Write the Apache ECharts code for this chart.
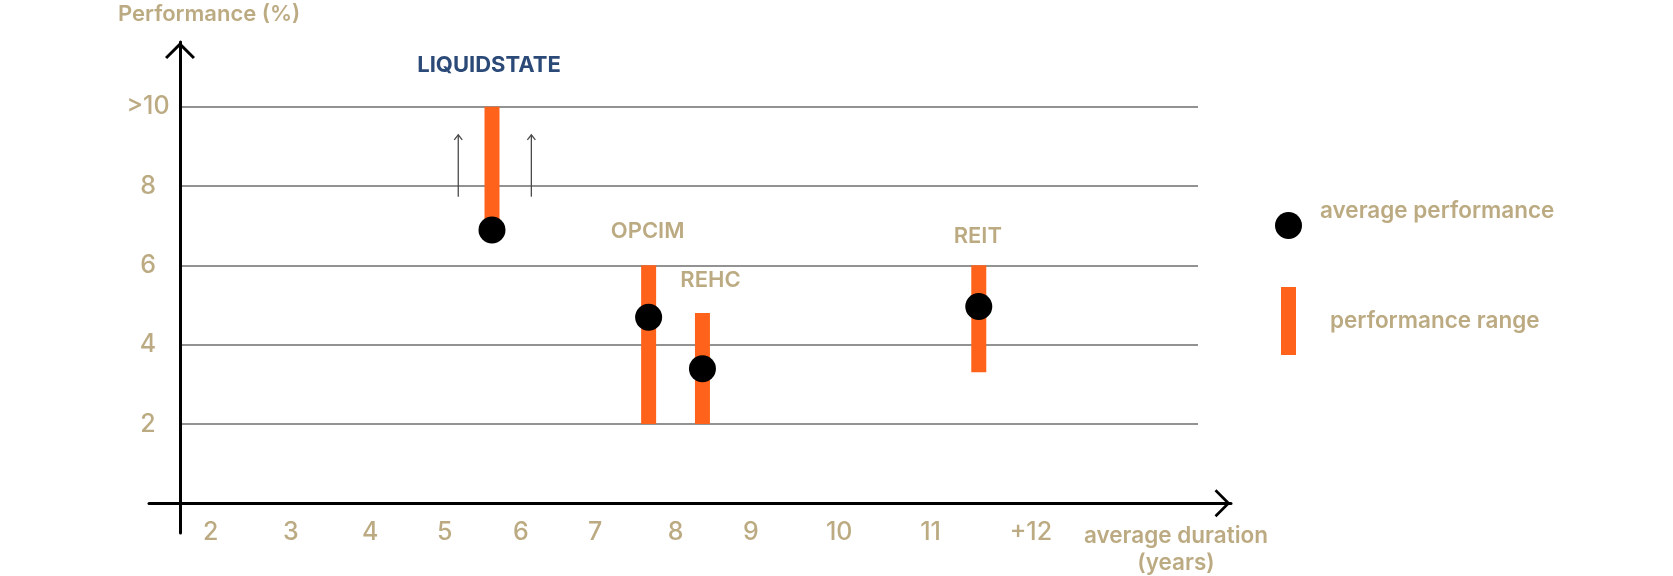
<!DOCTYPE html>
<html><head><meta charset="utf-8">
<script src="https://cdn.jsdelivr.net/npm/echarts@6/dist/echarts.min.js"></script>
<style>html,body{margin:0;padding:0;background:#fff}#c{width:1673px;height:576px}</style>
</head><body><div id="c"></div>
<script>
// ---- data ----
const names = ['LIQUIDSTATE', 'OPCIM', 'REHC', 'REIT'];
const durations = [5.59, 7.54, 8.21, 11.65];
const avgPerf = [6.89, 4.69, 3.39, 4.96];
const rangeLow = [6.89, 2, 2, 3.3];
const rangeHigh = [10, 6, 4.8, 6];
const yTicks = [2, 4, 6, 8, 10];
const yTickLabels = ['2', '4', '6', '8', '>10'];
const xTicks = [2, 3, 4, 5, 6, 7, 8, 9, 10, 11, 12];
const xTickLabels = ['2', '3', '4', '5', '6', '7', '8', '9', '10', '11', '+12'];
const arrowX = [5.17, 6.08];
const arrowFrom = [7.73, 7.73];
const arrowTo = [9.29, 9.29];

// ---- styles ----
const TAN = '#BCAB82', ORANGE = '#FF621A', NAVY = '#2C4A78';
const FONT = 'Inter, "Noto Sans", sans-serif';
const labelStyles = [
  {color: NAVY, dx: -3, dy: -41, weight: 700, size: 22},
  {color: TAN, dx: -1, dy: -34, weight: 600, size: 22},
  {color: TAN, dx: 8, dy: -32, weight: 600, size: 22},
  {color: TAN, dx: -1, dy: -29, weight: 600, size: 22}
];
// horizontal nudge (px) of each x tick label, the reference labels are hand placed
const xLabelNudge = [7, 7, 6, 0, -4, -10, -10, -15, -7, 4, 24];
const xLabelFont = {color: TAN, fontSize: 25, fontFamily: FONT, fontWeight: 500};
const xRich = {};
xTicks.forEach((t, i) => {
  const n = xLabelNudge[i];
  xRich['t' + i] = Object.assign({padding: n >= 0 ? [0, 0, 0, 2 * n] : [0, -2 * n, 0, 0]}, xLabelFont);
});
const legendFont = {color: TAN, fontSize: 22.5, fontWeight: 600, fontFamily: FONT};
const chevron = 'path://M15,0 L30,15 L27.9,17 L15,4.2 L2.1,17 L0,15 Z';

const chart = echarts.init(document.getElementById('c'), null, {renderer: 'canvas'});
const option = {
  animation: false,
  backgroundColor: '#fff',
  grid: [
    {left: 149, right: 442, top: 42, bottom: 43},
    {left: 180, right: 475, top: 106.7, bottom: 152}
  ],
  xAxis: [
    {
      gridIndex: 0, type: 'value', min: 1.32, max: 14.79,
      axisLine: {onZero: true, symbol: ['none', chevron], symbolSize: [28, 17], symbolOffset: [0, -8.5],
        lineStyle: {color: '#000', width: 3}},
      axisTick: {show: false, customValues: xTicks},
      splitLine: {show: false},
      axisLabel: Object.assign({customValues: xTicks, margin: -13,
        formatter: v => { const i = xTicks.indexOf(v); return '{t' + i + '|' + xTickLabels[i] + '}'; },
        rich: xRich}, xLabelFont)
    },
    {gridIndex: 1, type: 'value', min: 0, max: 1, show: false}
  ],
  yAxis: [
    {
      gridIndex: 0, type: 'value', min: -0.75, max: 11.63, offset: -31,
      axisLine: {show: true, onZero: false, symbol: ['none', chevron], symbolSize: [30, 17], symbolOffset: [0, -8.5],
        lineStyle: {color: '#000', width: 3}},
      axisTick: {show: false}, axisLabel: {show: false}, splitLine: {show: false}
    },
    {
      gridIndex: 1, type: 'value', min: 2, max: 10, interval: 2,
      axisLine: {show: false}, axisTick: {show: false},
      splitLine: {show: true, lineStyle: {color: '#6e6e6e', width: 1.5}},
      axisLabel: {formatter: v => yTickLabels[yTicks.indexOf(v)], color: TAN, fontSize: 25,
        fontFamily: FONT, fontWeight: 500, align: 'center', margin: 32}
    }
  ],
  legend: [
    {data: [{name: 'average performance', icon: 'circle'}], left: 1275, top: 200, padding: 0,
      itemWidth: 27, itemHeight: 27,
      formatter: '{a|{name}}',
      textStyle: Object.assign({rich: {a: Object.assign({padding: [0, 0, 28, 13]}, legendFont)}}, legendFont)},
    {data: [{name: 'performance range', icon: 'rect'}], left: 1281, top: 287, padding: 0,
      itemWidth: 15, itemHeight: 68,
      textStyle: Object.assign({padding: [0, 0, 0, 29]}, legendFont)}
  ],
  graphic: [
    {type: 'text', x: 118, y: 14, style: {text: 'Performance (%)', fill: TAN, font: '600 22px ' + FONT,
      align: 'left', verticalAlign: 'middle'}},
    {type: 'text', x: 1176, y: 550, style: {text: 'average duration\n(years)', fill: TAN, font: '600 22.5px ' + FONT,
      align: 'center', verticalAlign: 'middle', lineHeight: 27}}
  ],
  series: [
    {
      name: 'performance range', type: 'custom', xAxisIndex: 0, yAxisIndex: 0, z: 2,
      itemStyle: {color: ORANGE},
      data: names.map((n, i) => [durations[i], rangeLow[i], rangeHigh[i], i]),
      encode: {x: 0, y: [1, 2]},
      renderItem: (params, api) => {
        const x = api.value(0), lo = api.value(1), hi = api.value(2), i = api.value(3);
        const top = api.coord([x, hi]), bot = api.coord([x, lo]);
        const w = 15, st = labelStyles[i];
        return {type: 'group', children: [
          {type: 'rect', shape: {x: top[0] - w / 2, y: top[1], width: w, height: bot[1] - top[1]},
            style: {fill: ORANGE}},
          {type: 'text', x: top[0] + st.dx, y: top[1] + st.dy,
            style: {text: names[i], fill: st.color, font: st.weight + ' ' + st.size + 'px ' + FONT,
              align: 'center', verticalAlign: 'middle'}}
        ]};
      }
    },
    {
      name: 'average performance', type: 'scatter', xAxisIndex: 0, yAxisIndex: 0, z: 4,
      symbolSize: 27, itemStyle: {color: '#000', opacity: 1},
      data: names.map((n, i) => [durations[i], avgPerf[i]])
    },
    {
      name: 'arrows', type: 'custom', xAxisIndex: 0, yAxisIndex: 0, z: 3,
      data: arrowX.map((x, i) => [x, arrowFrom[i], arrowTo[i]]),
      encode: {x: 0, y: [1, 2]},
      renderItem: (params, api) => {
        const x = api.value(0);
        const a = api.coord([x, api.value(1)]), b = api.coord([x, api.value(2)]);
        return {type: 'group', children: [
          {type: 'line', shape: {x1: a[0], y1: a[1], x2: b[0], y2: b[1]}, style: {stroke: '#4a4a4a', lineWidth: 1.3}},
          {type: 'polyline', shape: {points: [[b[0] - 4, b[1] + 5], [b[0], b[1]], [b[0] + 4, b[1] + 5]]},
            style: {stroke: '#4a4a4a', lineWidth: 1.3, fill: null}}
        ]};
      }
    }
  ]
};
chart.setOption(option);
</script>
</body></html>
